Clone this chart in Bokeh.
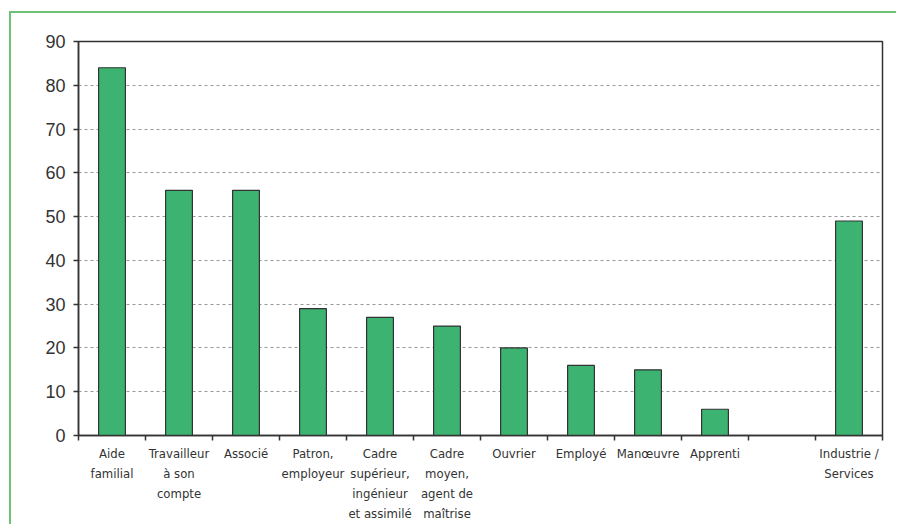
from bokeh.plotting import figure
from bokeh.models import ColumnDataSource, FixedTicker, Range1d
from bokeh.embed import file_html
from bokeh.resources import INLINE

categories = ["Aide\nfamilial", "Travailleur\nà son\ncompte", "Associé", "Patron,\nemployeur",
              "Cadre\nsupérieur,\ningénieur\net assimilé", "Cadre\nmoyen,\nagent de\nmaîtrise",
              "Ouvrier", "Employé", "Manœuvre", "Apprenti", "", "Industrie /\nServices"]
values = [84, 56, 56, 29, 27, 25, 20, 16, 15, 6, None, 49]
y_ticks = [0, 10, 20, 30, 40, 50, 60, 70, 80, 90]

n = len(categories)
centers = [i + 0.5 for i in range(n)]
bounds = [float(i) for i in range(n + 1)]

xs = [c for c, v in zip(centers, values) if v is not None]
ys = [v for v in values if v is not None]
src = ColumnDataSource(dict(x=xs, top=ys))

p = figure(frame_width=804, frame_height=394, output_backend="svg", toolbar_location=None,
           x_range=Range1d(0, n), y_range=Range1d(0, 90),
           min_border_left=67, min_border_top=28, min_border_right=14, min_border_bottom=60)
p.margin = (11, 0, 0, 9)
p.styles = {"border-top": "2px solid #6fc173", "border-left": "2px solid #6fc173"}

p.vbar(x="x", top="top", width=0.4, source=src, fill_color="#3cb371",
       line_color="#333333", line_width=1.2)

p.outline_line_color = "#333333"
p.outline_line_width = 1.5

p.xgrid.grid_line_color = None
p.ygrid.ticker = FixedTicker(ticks=y_ticks[1:-1])
p.ygrid.grid_line_color = "#999999"
p.ygrid.grid_line_dash = "3 3"
p.ygrid.grid_line_width = 1

xa = p.xaxis[0]
xa.ticker = FixedTicker(ticks=centers, minor_ticks=bounds)
xa.major_label_overrides = {c: lab for c, lab in zip(centers, categories)}
xa.major_tick_line_color = None
xa.major_tick_out = 0
xa.major_tick_in = 0
xa.minor_tick_line_color = "#333333"
xa.minor_tick_out = 5
xa.minor_tick_in = 0
xa.minor_tick_line_width = 1.5
xa.axis_line_color = "#333333"
xa.axis_line_width = 1.5
xa.major_label_standoff = 5
xa.major_label_text_font = "DejaVu Sans Condensed"
xa.major_label_text_font_size = "13px"
xa.major_label_text_color = "#333333"
xa.major_label_text_line_height = 1.35

ya = p.yaxis[0]
ya.ticker = FixedTicker(ticks=y_ticks)
ya.minor_tick_line_color = None
ya.major_tick_out = 5
ya.major_tick_in = 0
ya.major_tick_line_color = "#333333"
ya.major_tick_line_width = 1.5
ya.axis_line_color = "#333333"
ya.axis_line_width = 1.5
ya.major_label_standoff = 8
ya.major_label_text_font = "Liberation Sans"
ya.major_label_text_font_size = "18px"
ya.major_label_text_color = "#333333"

open("out.html", "w").write(file_html(p, INLINE))
